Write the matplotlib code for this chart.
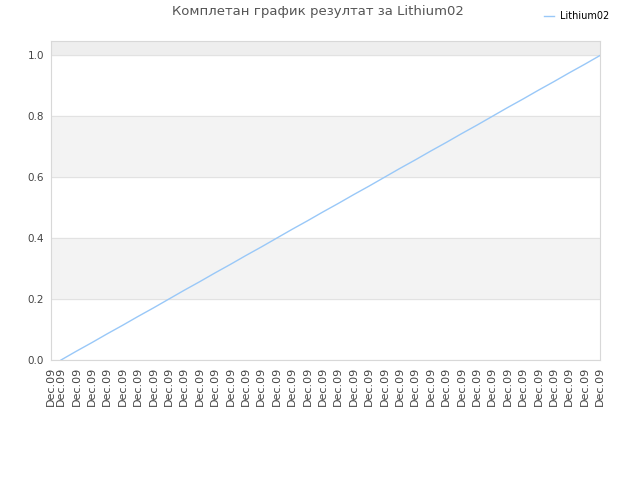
import matplotlib
matplotlib.use('Agg')
import matplotlib.pyplot as plt

# values
labels = ['Dec.09'] * 36
values = [0.0, 0.029, 0.057, 0.086, 0.114, 0.143, 0.171, 0.2, 0.229, 0.257,
          0.286, 0.314, 0.343, 0.371, 0.4, 0.429, 0.457, 0.486, 0.514, 0.543,
          0.571, 0.6, 0.629, 0.657, 0.686, 0.714, 0.743, 0.771, 0.8, 0.829,
          0.857, 0.886, 0.914, 0.943, 0.971, 1.0]
yticks = [0.0, 0.2, 0.4, 0.6, 0.8, 1.0]
series_name = 'Lithium02'
title = 'Комплетан график резултат за Lithium02'

fig = plt.figure(figsize=(6.4, 4.8), dpi=100)
ax = fig.add_axes([0.0797, 0.25, 0.858, 0.665])

x = list(range(len(values)))
xmin = -0.65
ax.set_xlim(xmin, len(values) - 1)
ax.set_ylim(0, 1.048)

# alternating bands
ax.axhspan(0.2, 0.4, color='#f3f3f3', zorder=0)
ax.axhspan(0.6, 0.8, color='#f3f3f3', zorder=0)
ax.axhspan(1.0, 1.048, color='#eeeeee', zorder=0)
for yv in yticks:
    ax.axhline(yv, color='#e2e2e2', lw=0.8, zorder=1)

ax.plot(x, values, color='#99c8f8', lw=1.0, zorder=3, label=series_name)

ax.set_yticks(yticks)
ax.set_yticklabels(['%.1f' % v for v in yticks], fontsize=7.5, color='#444444')
ax.set_xticks([xmin] + x)
ax.set_xticklabels(['Dec.09'] + labels, rotation=90, fontsize=8, color='#444444')
ax.tick_params(length=0, pad=5)

for s in ax.spines.values():
    s.set_color('#d8d8d8')
    s.set_linewidth(0.8)

fig.text(0.496, 0.975, title, ha='center', va='center', fontsize=9.5, color='#555555')
fig.legend(loc='upper right', bbox_to_anchor=(0.965, 0.995), fontsize=7, frameon=False,
           handlelength=1.0, handletextpad=0.6)

fig.savefig('out.png', dpi=100)
